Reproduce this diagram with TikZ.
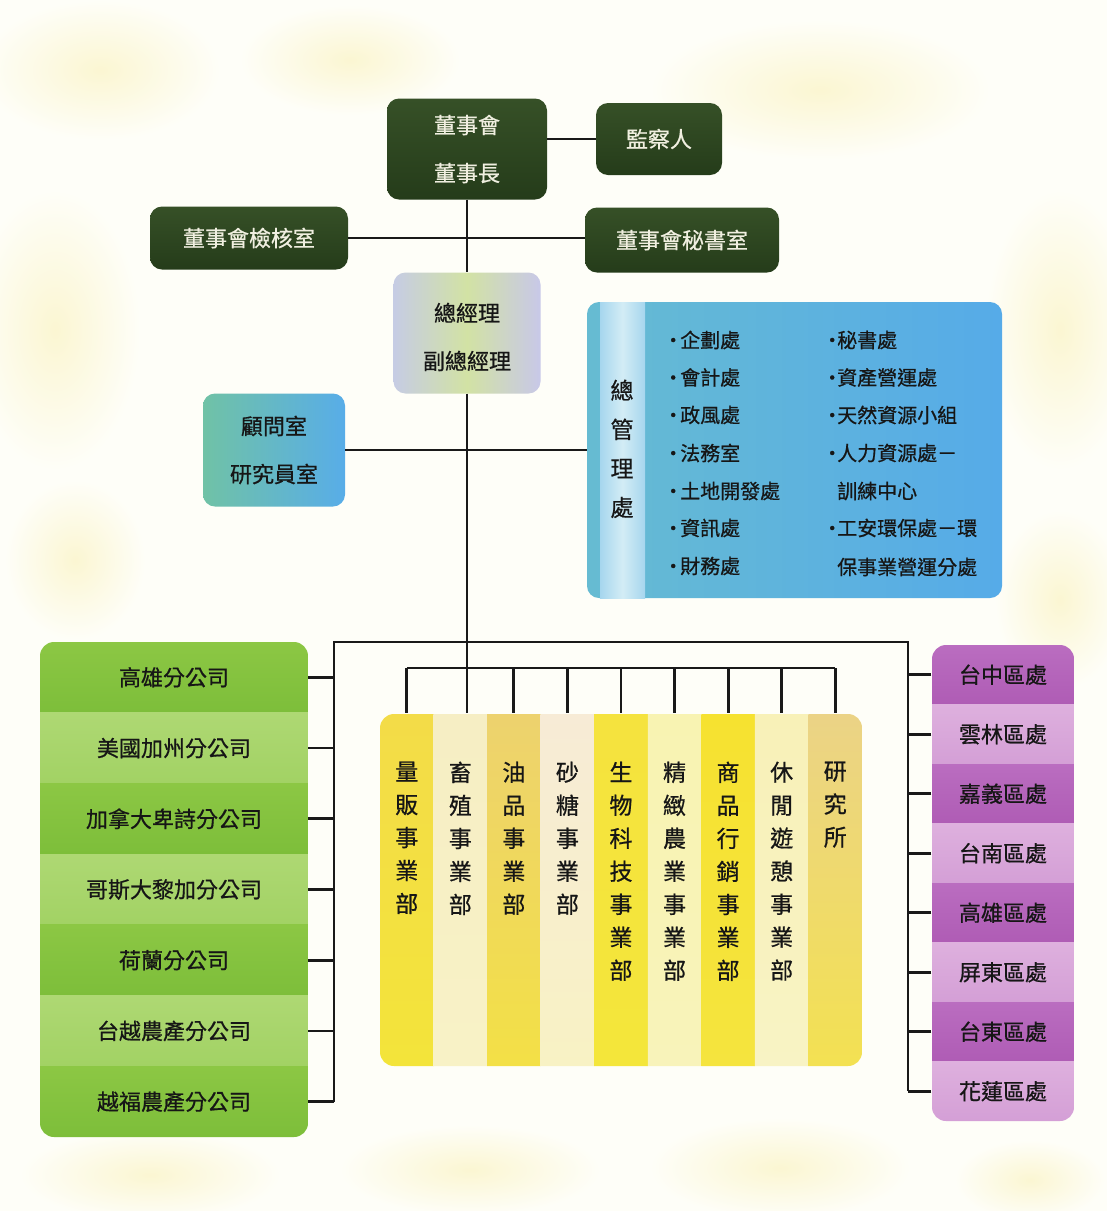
\documentclass[tikz,border=0pt]{standalone}
\usepackage{fontspec}
\setmainfont{Noto Sans CJK TC}[FakeBold=0.7]
\definecolor{bg}{HTML}{FEFEF8}
\definecolor{blob}{HTML}{FBF6D2}
\definecolor{dkgA}{HTML}{365027}
\definecolor{dkgB}{HTML}{253C1A}
\definecolor{cream}{HTML}{F0EFE0}
\definecolor{txt}{HTML}{161616}
\definecolor{gmL}{HTML}{C6CCE4}
\definecolor{gmM}{HTML}{D2E2A4}
\definecolor{gmR}{HTML}{C8C8E8}
\definecolor{advL}{HTML}{70C2A6}
\definecolor{advR}{HTML}{58ADE8}
\definecolor{admL}{HTML}{66BBD2}
\definecolor{admR}{HTML}{56ABE8}
\definecolor{stripE}{HTML}{A6D6EE}
\definecolor{stripM}{HTML}{D3EDF5}
\definecolor{gdA}{HTML}{8CC744}
\definecolor{gdB}{HTML}{7DBE3A}
\definecolor{glA}{HTML}{AED873}
\definecolor{glB}{HTML}{A2D264}
\definecolor{pdA}{HTML}{BA6DC0}
\definecolor{pdB}{HTML}{AF5CB5}
\definecolor{plA}{HTML}{DEB0DE}
\definecolor{plB}{HTML}{D49FD6}
\begin{document}
\begin{tikzpicture}[x=1pt,y=-1pt,
  conn/.style={line width=2.8pt, draw=black!90},
  dkbox/.style={rounded corners=12pt, top color=dkgA, bottom color=dkgB, text=cream,
    font=\fontsize{22pt}{48pt}\selectfont, align=center, inner sep=0pt},
  lbl/.style={font=\fontsize{22pt}{48pt}\selectfont, align=center, inner sep=0pt, text=txt},
  listitem/.style={font=\fontsize{20pt}{24pt}\selectfont, anchor=west, inner sep=0pt, text=txt},
  vtext/.style={font=\fontsize{23pt}{33pt}\selectfont, align=center, inner sep=0pt, anchor=north, text=txt},
  grnrow/.style={minimum width=268pt, minimum height=70.8pt, inner sep=0pt, text=txt,
    font=\fontsize{22pt}{26pt}\selectfont},
  purrow/.style={minimum width=143pt, minimum height=59.5pt, inner sep=0pt, text=txt,
    font=\fontsize{22pt}{26pt}\selectfont},
  stripe/.style={minimum width=53.6pt, minimum height=353pt, inner sep=0pt}
]
\useasboundingbox (0,0) rectangle (1107,1211);
\fill[bg] (0,0) rectangle (1107,1211);
% soft background blobs (kept apart so that they do not overlap)
\foreach \bx/\by/\rx/\ry in {100/70/120/70, 350/60/110/55, 820/90/170/70, 55/330/85/140,
  1060/330/75/140, 75/560/70/80, 1060/600/65/90, 150/1175/130/45,
  470/1170/130/45, 780/1168/130/50, 1030/1180/75/40}{
  \shade[inner color=blob, outer color=bg] (\bx,\by) ellipse [x radius=\rx pt, y radius=\ry pt];
}

% ---------- top boxes ----------
\node[dkbox, minimum width=160pt, minimum height=101pt] (board) at (467,149) {董事會\\董事長};
\node[dkbox, minimum width=126pt, minimum height=72pt] (sup) at (659,139) {監察人};
\node[dkbox, minimum width=198pt, minimum height=63pt] (audit) at (249,238) {董事會檢核室};
\node[dkbox, minimum width=194pt, minimum height=65pt] (secr) at (682,240) {董事會秘書室};

\node[rounded corners=12pt, left color=gmL, right color=gmR, middle color=gmM,
  minimum width=147pt, minimum height=121pt, inner sep=0pt] (gm) at (467,333) {};
\node[lbl] (gmt) at (467,337) {總經理\\副總經理};
\node[lbl, rounded corners=12pt, left color=advL, right color=advR,
  minimum width=142pt, minimum height=113pt] (adv) at (274,450) {顧問室\\研究員室};

% ---------- general administration ----------
\node[rounded corners=12pt, left color=admL, right color=admR, minimum width=415pt,
  minimum height=296pt, inner sep=0pt] (adm) at (794.5,450) {};
\shade[left color=stripE, right color=stripE, middle color=stripM] (600,302) rectangle (645,598);
\node[vtext, font=\fontsize{23pt}{39pt}\selectfont] (admt) at (622,379.5) {總\\管\\理\\處};
\node[listitem] (a1) at (663,340) {\makebox[17pt][l]{·}企劃處};
\node[listitem] (a2) at (663,377.5) {\makebox[17pt][l]{·}會計處};
\node[listitem] (a3) at (663,415) {\makebox[17pt][l]{·}政風處};
\node[listitem] (a4) at (663,453) {\makebox[17pt][l]{·}法務室};
\node[listitem] (a5) at (663,491) {\makebox[17pt][l]{·}土地開發處};
\node[listitem] (a6) at (663,528) {\makebox[17pt][l]{·}資訊處};
\node[listitem] (a7) at (663,566) {\makebox[17pt][l]{·}財務處};
\node[listitem] (b1) at (822,340) {\makebox[15pt][l]{·}秘書處};
\node[listitem] (b2) at (822,377.5) {\makebox[15pt][l]{·}資產營運處};
\node[listitem] (b3) at (822,415) {\makebox[15pt][l]{·}天然資源小組};
\node[listitem] (b4) at (822,453) {\makebox[15pt][l]{·}人力資源處－};
\node[listitem] (b5) at (837,491) {訓練中心};
\node[listitem] (b6) at (822,528) {\makebox[15pt][l]{·}工安環保處－環};
\node[listitem] (b7) at (837,567) {保事業營運分處};

% ---------- business divisions (yellow) ----------
\begin{scope}
\clip[rounded corners=14pt] (380,714) rectangle (862,1066);
\foreach \tc/\bc [count=\i] in {F3DC48/F3E43A, F6EEC4/F8F2C6, EDD26E/F3E046, F7EBD6/F8F2C4,
  F5E33E/F4E63A, F8F3B2/F8F3BA, F6E230/F5E43E, F8F1B8/F8F3C4, EBD386/F3E152}{
  \definecolor{stT}{HTML}{\tc}\definecolor{stB}{HTML}{\bc}
  \node[stripe, top color=stT, bottom color=stB] (c\i) at ({380+53.556*(\i-0.5)},890) {};
}
\end{scope}
\node[vtext] (t1) at (c1.center |- 0,761.5) {量\\販\\事\\業\\部};
\node[vtext] (t2) at (c2.center |- 0,761.5) {畜\\殖\\事\\業\\部};
\node[vtext] (t3) at (c3.center |- 0,761.5) {油\\品\\事\\業\\部};
\node[vtext] (t4) at (c4.center |- 0,761.5) {砂\\糖\\事\\業\\部};
\node[vtext] (t5) at (c5.center |- 0,761.5) {生\\物\\科\\技\\事\\業\\部};
\node[vtext] (t6) at (c6.center |- 0,761.5) {精\\緻\\農\\業\\事\\業\\部};
\node[vtext] (t7) at (c7.center |- 0,761.5) {商\\品\\行\\銷\\事\\業\\部};
\node[vtext] (t8) at (c8.center |- 0,761.5) {休\\閒\\遊\\憩\\事\\業\\部};
\node[vtext] (t9) at (c9.center |- 0,761.5) {研\\究\\所};

% ---------- overseas branches (green) ----------
\begin{scope}
\clip[rounded corners=14pt] (40,642) rectangle (308,1137);
\foreach \t [count=\i] in {高雄分公司, 美國加州分公司, 加拿大卑詩分公司, 哥斯大黎加分公司,
  荷蘭分公司, 台越農產分公司, 越福農產分公司}{
  \ifodd\i
    \node[grnrow, top color=gdA, bottom color=gdB] (g\i) at (174,{642+70.714*(\i-0.5)}) {\t};
  \else
    \node[grnrow, top color=glA, bottom color=glB] (g\i) at (174,{642+70.714*(\i-0.5)}) {\t};
  \fi
}
\end{scope}

% ---------- regional offices (purple) ----------
\begin{scope}
\clip[rounded corners=14pt] (932,645) rectangle (1074,1121);
\foreach \t [count=\i] in {台中區處, 雲林區處, 嘉義區處, 台南區處, 高雄區處, 屏東區處, 台東區處, 花蓮區處}{
  \ifodd\i
    \node[purrow, top color=pdA, bottom color=pdB] (p\i) at (1003,{645+59.5*(\i-0.5)}) {\t};
  \else
    \node[purrow, top color=plA, bottom color=plB] (p\i) at (1003,{645+59.5*(\i-0.5)}) {\t};
  \fi
}
\end{scope}

% ---------- connectors ----------
\coordinate (obL) at (334,642);
\coordinate (obR) at (908,642);
\coordinate (ib) at (620,668);
\draw[conn] (sup.west) -- (sup.west -| board.east);
\draw[conn] (board.south) -- (gm.north);
\draw[conn] (audit.east) -- (audit.east -| secr.west);
\draw[conn] (adv.east) -- (adv.east -| adm.west);
\draw[conn] (gm.south) -- (gm.south |- c2.north);
\draw[conn] (g7.east -| obL) -- (obL) -- (obR) -- (obR |- p8.west);
\draw[conn] (c1.north |- ib) -- (c9.north |- ib);
\foreach \i in {1,3,4,5,6,7,8,9}{
  \draw[conn] (c\i.north |- ib) -- (c\i.north);
}
\foreach \i in {1,...,7}{
  \draw[conn] (g\i.east) -- (g\i.east -| obL);
}
\foreach \i in {1,...,8}{
  \draw[conn] (p\i.west) -- (p\i.west -| obR);
}
\end{tikzpicture}
\end{document}
